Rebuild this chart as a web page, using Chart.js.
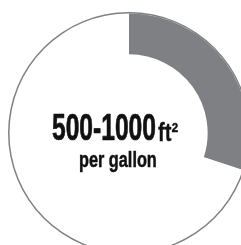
<html>
    <head>
        <script src='https://cdn.jsdelivr.net/npm/chart.js'></script>
    </head>
    <style>
        body { margin: 0; width: 241px; height: 245px; overflow: hidden; background: #fff; position: relative; }
        #wrap { position: absolute; left: 8px; top: 12px; width: 242px; height: 242px; }
        .label { position: absolute; font-family: 'Liberation Sans', Arial, sans-serif; font-weight: bold; color: #111; white-space: nowrap; line-height: 1; transform-origin: 0 0; -webkit-text-stroke: 0.7px #111; }
        #big { left: 52px; top: 109px; font-size: 37px; transform: scaleX(0.665); }
        #unit { left: 158px; top: 119px; font-size: 26px; transform: scaleX(0.78); -webkit-text-stroke: 0.3px #111; }
        #small { left: 79px; top: 149px; font-size: 22px; transform: scaleX(0.74); -webkit-text-stroke: 0.5px #111; }
    </style>
    <body>
        <div id='wrap'><canvas id='chart1' width='242' height='242'></canvas></div>
        <div class='label' id='big'>500-1000</div>
        <div class='label' id='unit'>ft²</div>
        <div class='label' id='small'>per gallon</div>
        <script>
            // share of the ring that is filled, rest is empty
            var labels = ['coverage', 'rest'];
            var values = [30, 70];
            var outline = [100];

            var gray = '#7f8084';

            new Chart('chart1', {
                type: 'doughnut',
                data: {
                    labels: labels,
                    datasets: [{
                        data: outline,
                        backgroundColor: [gray],
                        borderWidth: 0,
                        weight: 1.5
                    }, {
                        data: values,
                        backgroundColor: [gray, '#ffffff'],
                        borderWidth: 0,
                        weight: 40.8
                    }]
                },
                options: {
                    responsive: false,
                    animation: false,
                    cutout: '65%',
                    layout: { padding: 0 },
                    plugins: {
                        legend: { display: false },
                        tooltip: { enabled: false }
                    }
                }
            });
        </script>
    </body>
</html>
